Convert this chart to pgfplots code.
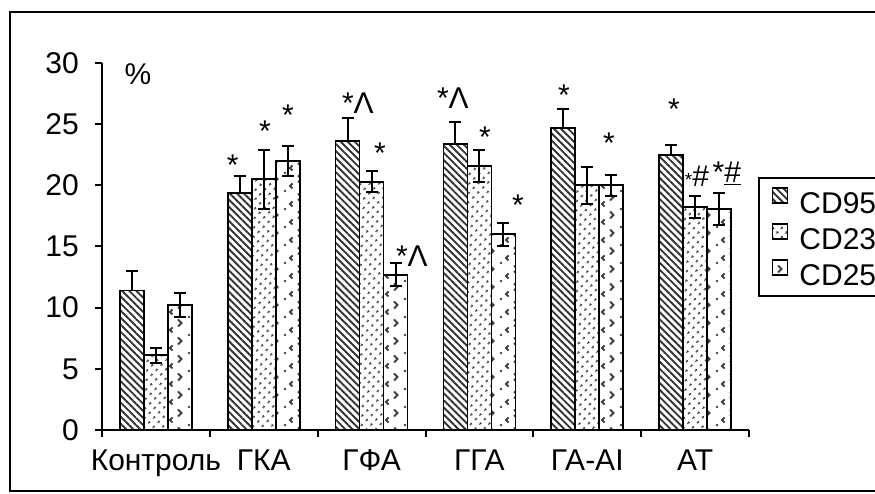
\documentclass[border=0pt]{standalone}
\usepackage{fontspec}
\setmainfont{Liberation Sans}
\usepackage{pgfplots}
\pgfplotsset{compat=1.18}
\usepackage{pgfplotstable}
\usetikzlibrary{patterns,patterns.meta}

\pgfdeclarepatternformonly{chevrons}{\pgfqpoint{-1pt}{-1pt}}{\pgfqpoint{25pt}{19pt}}{\pgfqpoint{24pt}{18pt}}{%
  \pgfsetlinewidth{1.8pt}%
  \pgfpathmoveto{\pgfqpoint{10pt}{12.5pt}}\pgfpathlineto{\pgfqpoint{13.5pt}{9pt}}\pgfpathlineto{\pgfqpoint{10pt}{5.5pt}}\pgfusepath{stroke}%
  \pgfpathmoveto{\pgfqpoint{4.5pt}{4.5pt}}\pgfpathlineto{\pgfqpoint{2pt}{2pt}}\pgfpathlineto{\pgfqpoint{4.5pt}{-0.5pt}}\pgfusepath{stroke}%
  \pgfpathcircle{\pgfqpoint{21pt}{15pt}}{1.3pt}\pgfusepath{fill}%
}

\pgfplotstableread{
x y e
0 11.4 1.6
1 19.4 1.4
2 23.6 1.9
3 23.4 1.8
4 24.7 1.5
5 22.5 0.8
}\cdA
\pgfplotstableread{
x y e
0 6.1 0.6
1 20.5 2.4
2 20.3 0.85
3 21.6 1.3
4 20.0 1.5
5 18.25 0.9
}\cdB
\pgfplotstableread{
x y e
0 10.2 1.0
1 22.0 1.25
2 12.7 0.95
3 16.0 0.95
4 20.0 0.85
5 18.05 1.3
}\cdC

\newcommand{\bigf}{\fontsize{30}{30}\selectfont}

\begin{document}
\begin{tikzpicture}
\useasboundingbox (0pt,0pt) rectangle (875pt,494pt);
\clip (0pt,0pt) rectangle (875pt,494pt);
\fill[white] (0pt,0pt) rectangle (875pt,494pt);
\draw[line width=2pt] (10pt,3pt) rectangle (900pt,482pt);
\begin{axis}[
  at={(102pt,64pt)}, anchor=south west,
  scale only axis, width=647pt, height=367pt,
  xmin=-0.5, xmax=5.5, ymin=0, ymax=30,
  clip=false,
  ybar=0pt, bar width=0.2226,
  axis x line*=bottom, axis y line*=left,
  axis line style={line width=2pt,-},
  tick align=outside,
  major tick length=7pt,
  every tick/.style={line width=2pt, black},
  ytick={0,5,...,30},
  xtick={-0.5,0.5,...,5.5},
  xticklabels={},
  extra x ticks={0,1,2,3,4,5},
  extra x tick labels={Контроль,ГКА,ГФА,ГГА,ГА-АІ,АТ},
  extra x tick style={major tick length=0pt},
  ticklabel style={font=\bigf},
  /pgf/number format/assume math mode=true,
  yticklabel style={inner sep=0pt, xshift=-16pt},
  xticklabel style={inner sep=0pt, text height=21.5pt, text depth=6pt, yshift=-19pt},
  legend image code/.code={\draw[#1, line width=1.5pt] (0pt,1pt) rectangle (15pt,16pt);},
  legend style={at={(1.0139,0.689)}, anchor=north west, draw=black, line width=2pt,
    font=\bigf, inner xsep=13pt, inner ysep=9pt, row sep=8pt, column sep=11pt,
    nodes={inner sep=0pt}},
  legend cell align=left,
]
\addplot[draw=black, line width=1.8pt, pattern={Lines[angle=-45,distance=5pt,line width=1.9pt]}, pattern color=black!80,
  error bars/.cd, y dir=plus, y explicit, error bar style={line width=2pt, black}, error mark options={rotate=90, line width=2pt, mark size=6pt, black}]
  table[x=x,y=y,y error=e]{\cdA};
\addplot[draw=black, line width=1.8pt, pattern={Dots[distance=6.5pt,radius=1.5pt,angle=45]}, pattern color=black!80,
  error bars/.cd, y dir=both, y explicit, error bar style={line width=2pt, black}, error mark options={rotate=90, line width=2pt, mark size=6pt, black}]
  table[x=x,y=y,y error=e]{\cdB};
\addplot[draw=black, line width=1.8pt, pattern=chevrons, pattern color=black!75,
  error bars/.cd, y dir=both, y explicit, error bar style={line width=2pt, black}, error mark options={rotate=90, line width=2pt, mark size=6pt, black}]
  table[x=x,y=y,y error=e]{\cdC};
\legend{CD95,CD23,CD25}
\tikzset{ann/.style={anchor=north, inner sep=0pt, font=\bigf}}
\node[ann] at (axis cs:-0.167,30.0) {\%};
\node[ann] at (axis cs:0.711,22.5) {*};
\node[ann] at (axis cs:1.011,25.3) {*};
\node[ann] at (axis cs:1.224,26.6) {*};
\node[ann] at (axis cs:1.873,27.6) {*Λ};
\node[ann] at (axis cs:2.077,23.5) {*};
\node[ann] at (axis cs:2.374,15.1) {*Λ};
\node[ann] at (axis cs:2.754,28.0) {*Λ};
\node[ann] at (axis cs:3.051,24.8) {*};
\node[ann] at (axis cs:3.357,19.2) {*};
\node[ann] at (axis cs:3.784,28.2) {*};
\node[ann] at (axis cs:4.201,24.3) {*};
\node[ann] at (axis cs:4.804,27.1) {*};
\node[ann] at (axis cs:5.017,21.6) {{\fontsize{19}{19}\selectfont*}\#};
\node[ann] at (axis cs:5.295,21.9) {*\underline{\#}};
\end{axis}
\end{tikzpicture}
\end{document}
